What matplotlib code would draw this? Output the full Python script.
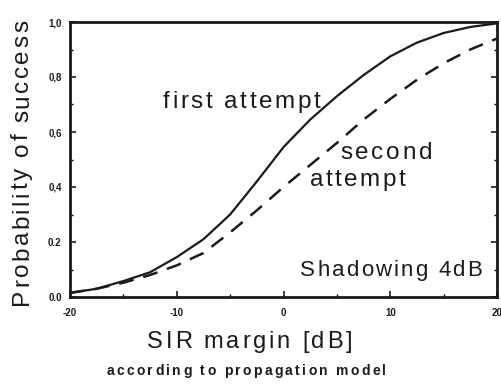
import matplotlib
matplotlib.use("Agg")
import matplotlib.pyplot as plt
from matplotlib.font_manager import FontProperties
from matplotlib.transforms import IdentityTransform
import numpy as np

sir_db = [-20, -17.5, -15, -12.5, -10, -7.5, -5, -2.5, 0, 2.5, 5, 7.5, 10, 12.5, 15, 17.5, 20]
first_attempt = [0.015, 0.03, 0.058, 0.09, 0.145, 0.21, 0.30, 0.42, 0.545, 0.645, 0.73, 0.807,
                 0.875, 0.925, 0.96, 0.982, 0.995]
second_attempt = [0.015, 0.03, 0.052, 0.08, 0.115, 0.16, 0.235, 0.315, 0.40, 0.48, 0.56, 0.645,
                  0.72, 0.79, 0.85, 0.90, 0.94]
xticks = [-20, -10, 0, 10, 20]
yticks = [0.0, 0.2, 0.4, 0.6, 0.8, 1.0]
ytick_labels = ["0.0", "0.2", "0,4", "0,6", "0,8", "1,0"]

FAMILY = ['Liberation Sans', 'DejaVu Sans']
plt.rcParams['font.family'] = FAMILY
INK = '#1a1a1a'

W, H = 501, 385
fig = plt.figure(figsize=(W / 100, H / 100), dpi=100)
ax = fig.add_axes([70 / W, 1 - 297 / H, (497 - 70) / W, (297 - 22) / H])

ax.plot(sir_db, first_attempt, color=INK, lw=1.6)
ax.plot(sir_db, second_attempt, color=INK, lw=1.8, dashes=(6, 4))

ax.set_xlim(-20, 20)
ax.set_ylim(0, 1.0)
ax.set_xticks(xticks)
ax.set_xticklabels([str(t) for t in xticks])
ax.set_yticks(yticks)
ax.set_yticklabels(ytick_labels)
ax.set_xticks(np.arange(-20, 21, 5), minor=True)
ax.set_yticks(np.arange(0, 1.01, 0.1), minor=True)
ax.tick_params(axis='x', which='major', direction='in', length=4, width=1.2,
               labelsize=7, pad=8, colors=INK)
ax.tick_params(axis='y', which='major', direction='in', length=4, width=1.2,
               labelsize=7, pad=6, right=True, colors=INK)
ax.tick_params(axis='both', which='minor', direction='in', length=2, width=1, right=True)
for lab in ax.get_xticklabels() + ax.get_yticklabels():
    lab.set_fontweight('bold')
for s in ax.spines.values():
    s.set_linewidth(2.0)
    s.set_color(INK)

renderer = fig.canvas.get_renderer()


def spaced_text(s, x_img, y_img, size, width_px, weight='normal', vertical=False):
    """Draw letter-spaced text. x_img/y_img: start of text on the baseline, image pixels
    (origin top-left). For vertical text the text runs upward from y_img with baseline at x_img."""
    prop = FontProperties(family=FAMILY, size=size, weight=weight)
    bar_w = renderer.get_text_width_height_descent("|", prop, ismath=False)[0]

    def adv(prefix):
        if not prefix:
            return 0.0
        return renderer.get_text_width_height_descent(prefix + "|", prop, ismath=False)[0] - bar_w

    natural = renderer.get_text_width_height_descent(s, prop, ismath=False)[0]
    n = len(s)
    spacing = (width_px - natural) / (n - 1) if n > 1 else 0
    for i, ch in enumerate(s):
        if ch == ' ':
            continue
        off = adv(s[:i]) + i * spacing
        if not vertical:
            xd, yd = x_img + off, H - y_img
            rot = 0
        else:
            xd, yd = x_img, H - (y_img - off)
            rot = 90
        fig.text(xd, yd, ch, transform=IdentityTransform(), fontproperties=prop,
                 rotation=rot, rotation_mode='anchor', ha='left', va='baseline', color=INK)


spaced_text("first attempt", 163, 108, 17.5, 157)
spaced_text("second", 340, 159, 17.5, 92)
spaced_text("attempt", 310, 186, 17.5, 95)
spaced_text("Shadowing 4dB", 300, 276, 16, 182)
spaced_text("SIR margin [dB]", 147, 348, 17, 205)
spaced_text("according to propagation model", 107, 375, 10, 279, weight='bold')
spaced_text("Probability of success", 28, 305, 17.5, 285, vertical=True)

fig.savefig("out.png", dpi=100)
